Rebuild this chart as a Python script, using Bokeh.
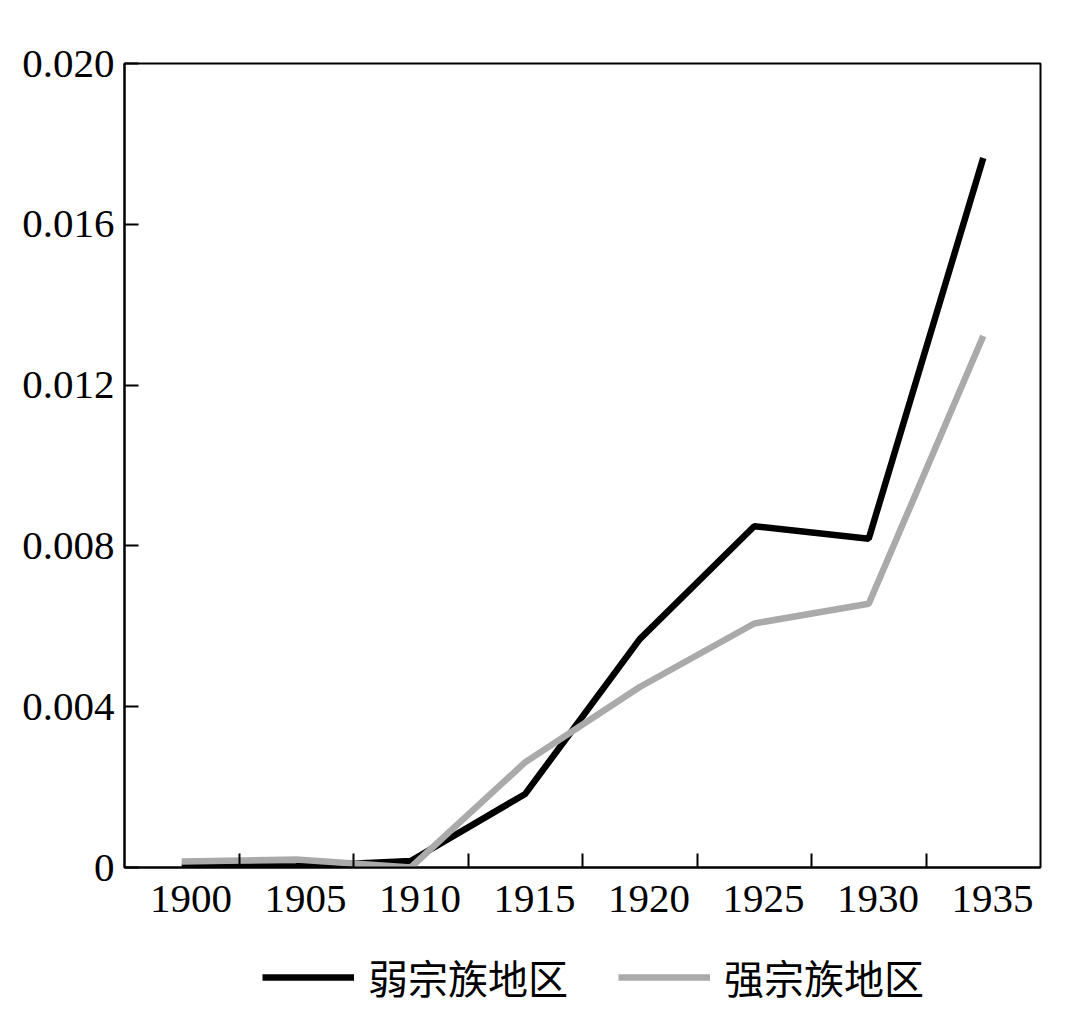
from bokeh.plotting import figure
from bokeh.layouts import column
from bokeh.models import FixedTicker, Legend, LegendItem, Range1d
from bokeh.embed import file_html
from bokeh.resources import INLINE

years = [1900, 1905, 1910, 1915, 1920, 1925, 1930, 1935]
weak_clan = [0.00002, 0.00003, 0.00016, 0.00183, 0.00568, 0.00849, 0.00818, 0.01765]
strong_clan = [0.00015, 0.00020, 0.00000, 0.00262, 0.00449, 0.00607, 0.00656, 0.01322]
y_ticks = [0, 0.004, 0.008, 0.012, 0.016, 0.020]
y_tick_labels = ["0", "0.004", "0.008", "0.012", "0.016", "0.020"]
series_names = ["弱宗族地区", "强宗族地区"]
series_colors = ["black", "#aaaaaa"]

step = 5
label_shift = 0.4
LW = 6.5

p = figure(
    frame_width=916, frame_height=804,
    x_range=Range1d(years[0] - step / 2, years[-1] + step / 2),
    y_range=Range1d(0, 0.020),
    output_backend="svg", toolbar_location=None,
    min_border_left=124, min_border_top=63, min_border_bottom=70, min_border_right=30,
)
p.background_fill_color = "white"
p.border_fill_color = "white"
p.outline_line_color = "black"
p.outline_line_width = 2
p.xgrid.visible = False
p.ygrid.visible = False

p.line(years, weak_clan, line_color=series_colors[0], line_width=LW)
p.line(years, strong_clan, line_color=series_colors[1], line_width=LW)

# x axis: labels centred (slightly shifted) in each bin, ticks at bin boundaries
xa = p.xaxis[0]
label_pos = [y + label_shift for y in years]
bounds = [y + step / 2 for y in years[:-1]]
xa.ticker = FixedTicker(ticks=label_pos, minor_ticks=bounds)
xa.major_label_overrides = {lp: str(y) for lp, y in zip(label_pos, years)}
xa.major_tick_in = 0
xa.major_tick_out = 0
xa.minor_tick_in = 14
xa.minor_tick_out = 0
xa.minor_tick_line_color = "black"
xa.minor_tick_line_width = 2
xa.axis_line_width = 2
xa.major_label_text_font = "Liberation Serif"
xa.major_label_text_font_size = "41px"
xa.major_label_text_color = "black"
xa.major_label_standoff = 18

ya = p.yaxis[0]
ya.ticker = FixedTicker(ticks=y_ticks)
ya.major_label_overrides = {t: l for t, l in zip(y_ticks, y_tick_labels)}
ya.major_tick_in = 14
ya.major_tick_out = 0
ya.major_tick_line_width = 2
ya.minor_tick_in = 0
ya.minor_tick_out = 0
ya.axis_line_width = 2
ya.major_label_text_font = "Liberation Serif"
ya.major_label_text_font_size = "41px"
ya.major_label_text_color = "black"
ya.major_label_standoff = 10

# legend strip below the chart (legend-only renderers, hidden)
p2 = figure(
    width=1070, height=75, x_range=p.x_range, y_range=p.y_range,
    output_backend="svg", toolbar_location=None,
    x_axis_location=None, y_axis_location=None, min_border=0,
)
p2.outline_line_color = None
p2.xgrid.visible = False
p2.ygrid.visible = False
k1 = p2.line(years, weak_clan, line_color=series_colors[0], line_width=LW, visible=False)
k2 = p2.line(years, strong_clan, line_color=series_colors[1], line_width=LW, visible=False)

legend = Legend(
    items=[LegendItem(label=series_names[0], renderers=[k1]),
           LegendItem(label=series_names[1], renderers=[k2])],
    orientation="horizontal", location=(138, 6),
    label_text_font="Noto Sans CJK SC", label_text_font_size="40px",
    label_text_color="black",
    glyph_width=92, glyph_height=40, label_height=40, label_standoff=14, spacing=50,
    padding=0, margin=0, border_line_color=None, background_fill_alpha=0,
    inactive_fill_alpha=0,
)
p2.add_layout(legend, "center")

layout = column(p, p2, spacing=0)
open("out.html", "w").write(file_html(layout, INLINE))
